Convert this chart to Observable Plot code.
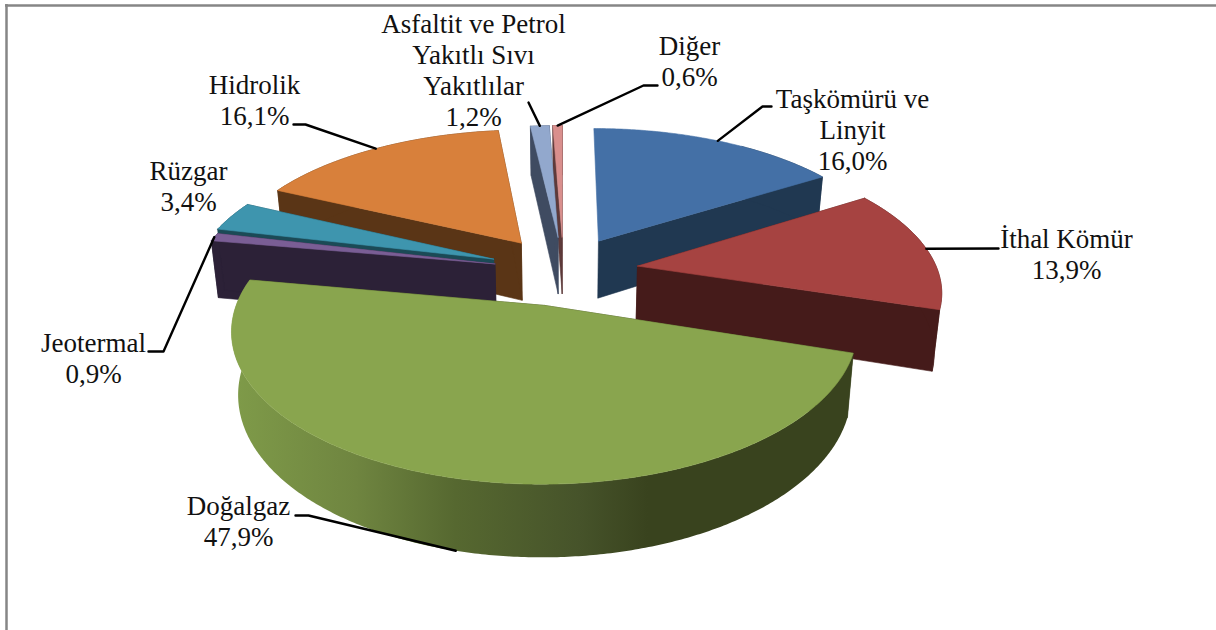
<!DOCTYPE html>
<html><head><meta charset="utf-8">
<script src="https://cdn.jsdelivr.net/npm/d3@7"></script>
<script src="https://cdn.jsdelivr.net/npm/@observablehq/plot@0.6"></script>
<style>html,body{margin:0;padding:0;background:#fff;overflow:hidden}svg{display:block}</style>
</head><body><div id="chart"></div>
<script>
// Data
const categories = ["Taşkömürü ve\nLinyit","İthal Kömür","Doğalgaz","Jeotermal","Rüzgar","Hidrolik","Asfaltit ve Petrol\nYakıtlı Sıvı\nYakıtlılar","Diğer"];
const shares = [16.0,13.9,47.9,0.9,3.4,16.1,1.2,0.6];
const topColors = ["#4470a6","#a64341","#89a54e","#7a5e95","#3e95ae","#d8803b","#92a8cd","#d98f8d"];
const wallColors = ["#203851","#451b1a","#39431e","#2c2137","#1b4a56","#5a3516","#3f4b61","#5e3a3a"];
const gradientStops = [[0,"#7f9b49"],[0.2,"#6f8540"],[0.36,"#566830"],[0.56,"#46532a"],[0.67,"#39431e"],[1,"#39431e"]];
const paintOrder = [7,6,0,5,4,3,1,2];
const explosions = [0.25,0.25,0.25,0.235,0.25,0.25,0.25,0.25];
const widthScale = [1,1,0.99,1,1,1,1,1];

// Label layout: block centre, elbow of the leader line, and elbow/leader start
const labelX = [852,1066,238,93,188,254,473,689];
const labelY = [129,253,520,357,185,99,69,60];
const leaderStart = [[771,106],[998,248],[295,515],[148,351],null,[293,124],[528,102],[657,85]];
const leaderElbow = [[762,106],null,[308,515],[163,351],null,[305,124],null,[643,85]];
const leaderOnBase = [false,false,true,false,false,false,false,false];

// 3D pie geometry (perspective projection of the pie plane)
const cx = 563, cy = 270, R = 300, r = 138.6, k = 0.156, depth = 59, shrink = 0.98;
const project = (u, v, base = false) => {
  const w = 1 - k * v, px = R * u / w, py = r * v / w;
  return base ? {x: cx + px * shrink, y: cy + py + depth / w} : {x: cx + px, y: cy + py};
};
const total = d3.sum(shares);
let cum = 0;
const slices = shares.map((s, i) => {
  const a0 = cum / total * 2 * Math.PI; cum += s;
  const a1 = cum / total * 2 * Math.PI, mid = (a0 + a1) / 2;
  const ox = explosions[i] * Math.sin(mid), oy = -explosions[i] * Math.cos(mid);
  const n = Math.max(2, Math.ceil((a1 - a0) / 0.01));
  const angles = d3.range(n + 1).map(j => a0 + (a1 - a0) * j / n);
  const at = (a, base) => project(ox + widthScale[i] * Math.sin(a), oy - Math.cos(a), base);
  const rim = (base) => angles.map(a => at(a, base));
  return {i, a0, a1, mid, ox, oy,
    apexTop: project(ox, oy), apexBase: project(ox, oy, true),
    rimTop: rim(false), rimBase: rim(true),
    midTop: at(mid, false), midBase: at(mid, true)};
});

const face = (pts, fill) => Plot.line([...pts, pts[0]], {x: "x", y: "y", fill, stroke: fill.startsWith("url") ? "none" : fill, strokeWidth: 0.6, curve: "linear"});

const marks = [];
// Chart frame
marks.push(Plot.ruleY([5], {x1: 5, x2: 1216, stroke: "#868686", strokeWidth: 2.5}));
marks.push(Plot.ruleX([6], {y1: 4, y2: 630, stroke: "#868686", strokeWidth: 2.5}));

for (const i of paintOrder) {
  const s = slices[i], wall = wallColors[i];
  const first = s.rimTop[0], last = s.rimTop[s.rimTop.length - 1];
  const firstB = s.rimBase[0], lastB = s.rimBase[s.rimBase.length - 1];
  // the back part of the first slice's side turns away from the viewer
  const from = s.a0 === 0 ? Math.floor(s.rimTop.length * 0.6) : 0;
  if (s.a0 > 0) marks.push(face([s.apexTop, first, firstB, s.apexBase], wall));
  marks.push(face([s.apexTop, last, lastB, s.apexBase], wall));
  marks.push(face([...s.rimTop.slice(from), ...s.rimBase.slice(from).reverse()], i === 2 ? "url(#wallGradient)" : wall));
  marks.push(face([s.apexTop, ...s.rimTop], topColors[i]));
}

// Leader lines
slices.forEach((s, i) => {
  if (!leaderStart[i]) return;
  const end = leaderOnBase[i] ? s.midBase : s.midTop;
  const pts = [leaderStart[i], leaderElbow[i], [end.x, end.y]].filter(Boolean);
  marks.push(Plot.line(pts, {x: d => d[0], y: d => d[1], stroke: "#000", strokeWidth: 2.4, curve: "linear", strokeLinejoin: "round"}));
});

// Labels
const labels = categories.map((c, i) => ({x: labelX[i], y: labelY[i], text: c + "\n" + shares[i].toFixed(1).replace(".", ",") + "%"}));
marks.push(Plot.text(labels, {x: "x", y: "y", text: "text", textAnchor: "middle", lineAnchor: "middle", lineHeight: 1.15, fontSize: 27, fontFamily: "Liberation Serif", fill: "#111"}));

const chart = Plot.plot({
  width: 1216, height: 630, margin: 0,
  x: {domain: [0, 1216], range: [0, 1216], axis: null},
  y: {domain: [0, 630], range: [0, 630], axis: null},
  style: {background: "#fff"},
  marks
});
const grad = d3.select(chart).insert("defs", ":first-child").append("linearGradient").attr("id", "wallGradient").attr("x1", 0).attr("x2", 1).attr("y1", 0).attr("y2", 0);
gradientStops.forEach(([o, c]) => grad.append("stop").attr("offset", o).attr("stop-color", c));
document.getElementById("chart").append(chart);
</script></body></html>
